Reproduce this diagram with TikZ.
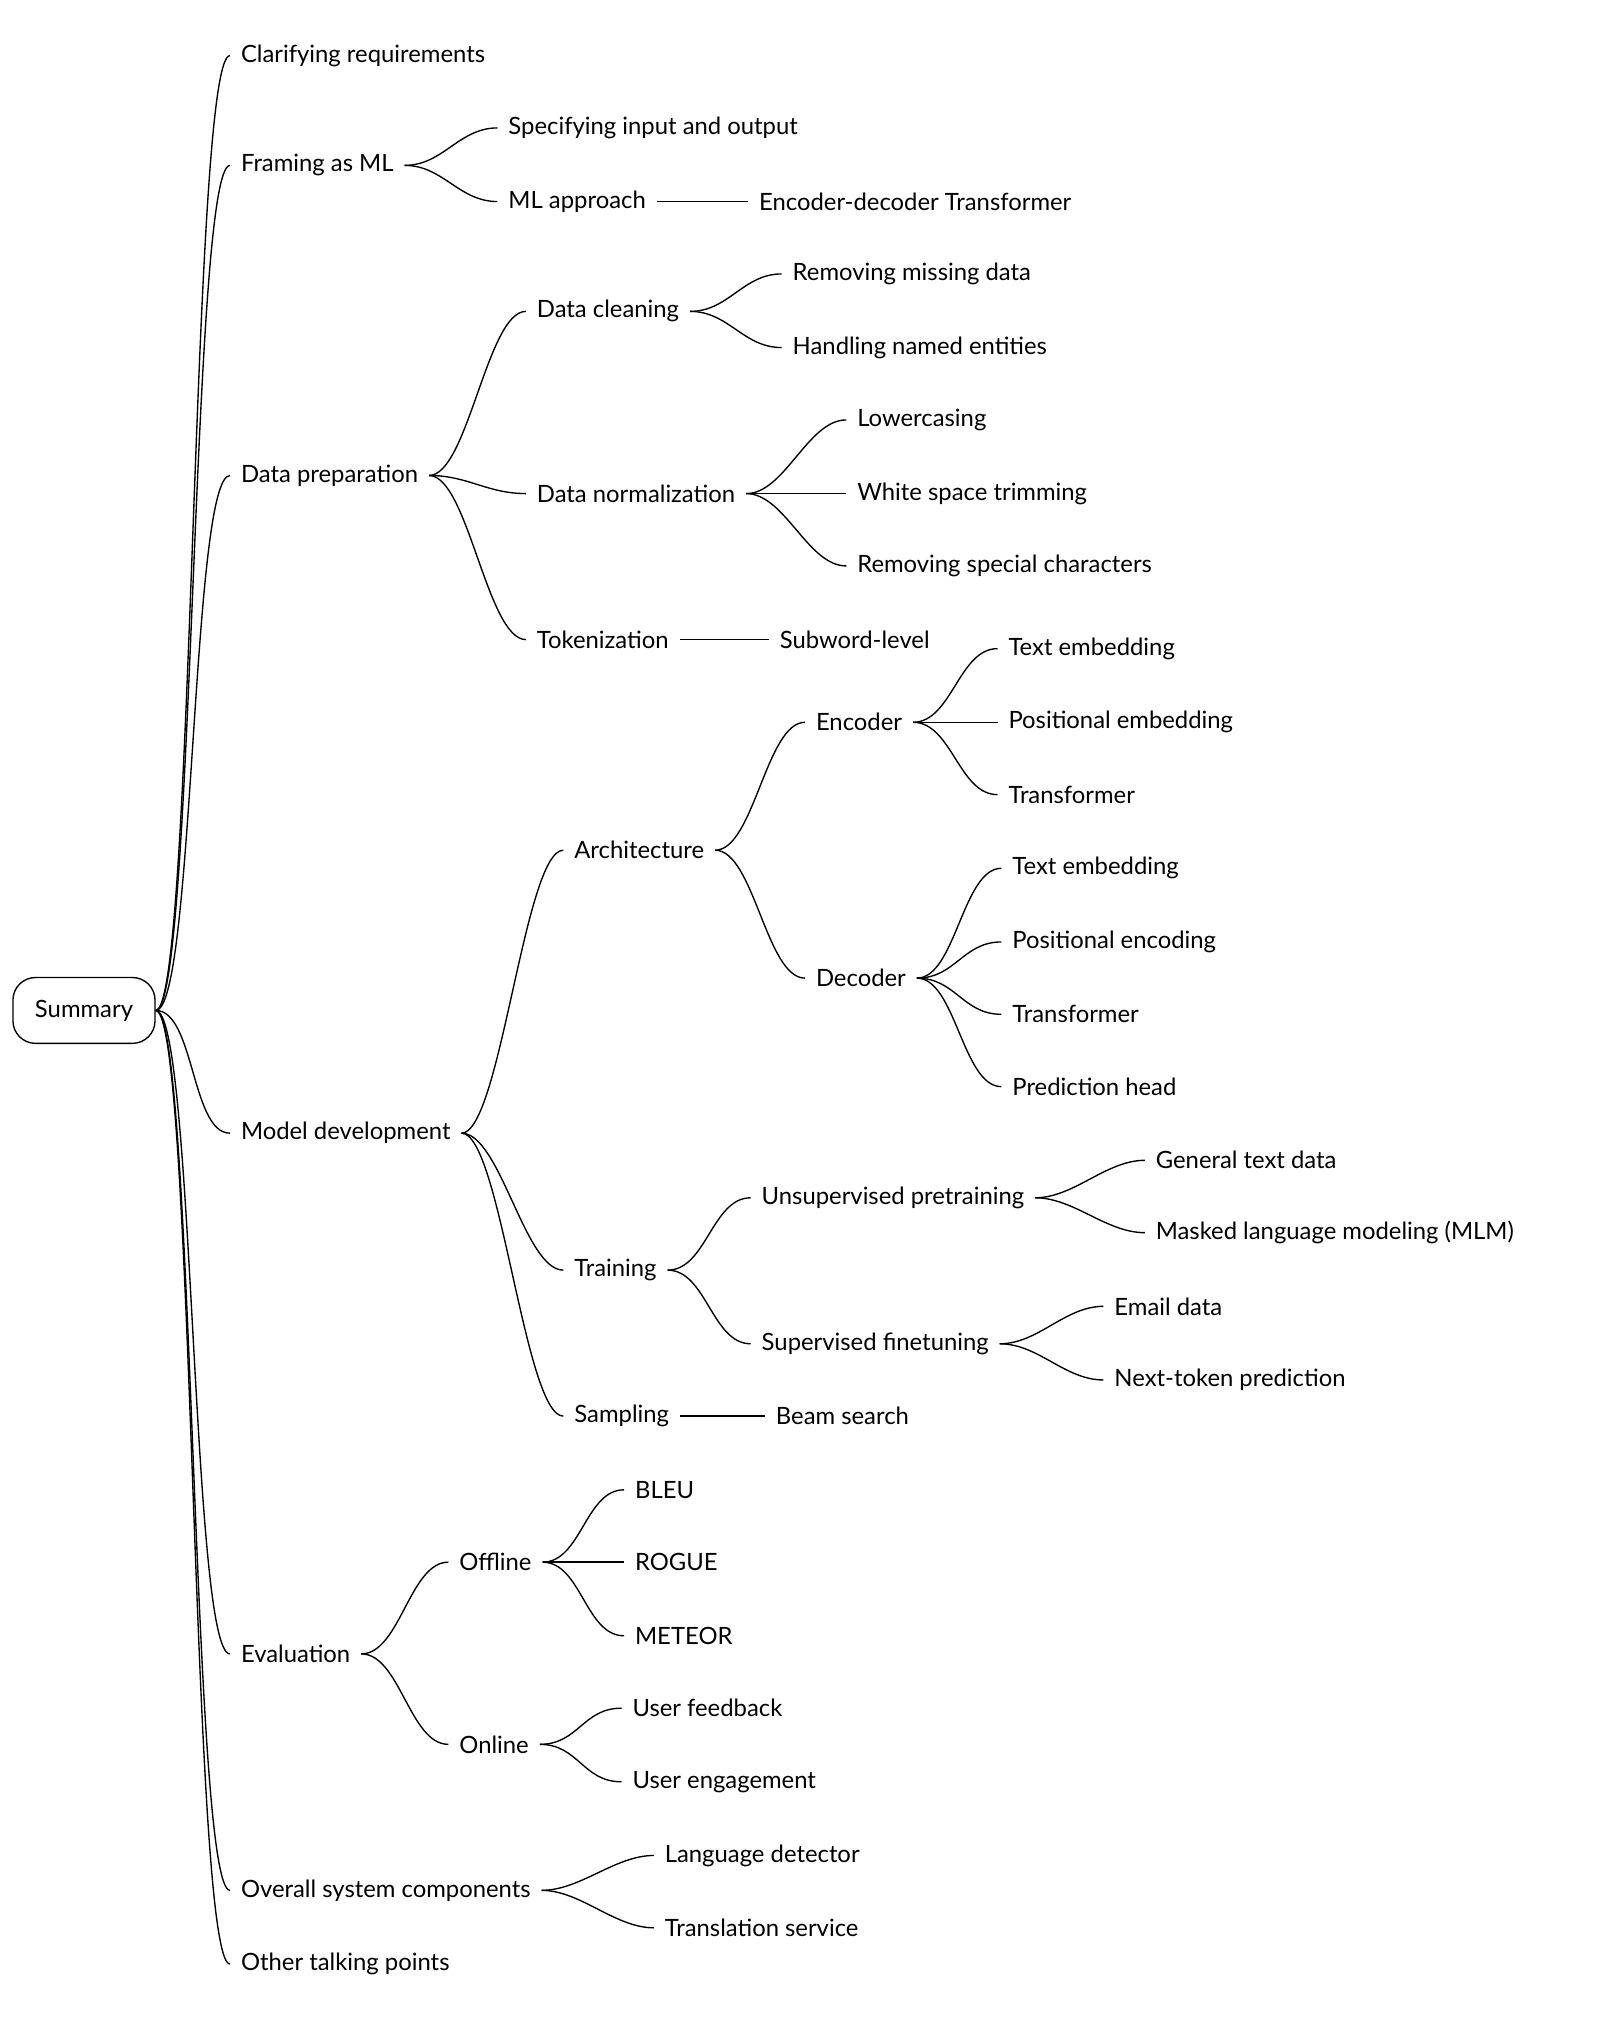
\documentclass[tikz,border=0pt]{standalone}
\usepackage{fontspec}
\setmainfont{Lato}
\usetikzlibrary{positioning}

\begin{document}
\begin{tikzpicture}[x=0.02cm, y=-0.02cm, semithick,
	item/.style={anchor=west, inner sep=0.16cm, font=\fontsize{10.5}{12}\selectfont},
	branch/.style={to path={.. controls +(30,0) and +(-30,0) .. (\tikztotarget)}}]

\useasboundingbox (0,0) rectangle (1240,1568);

\node[draw, rounded corners=0.35cm, minimum width=2.2cm, minimum height=1.02cm, font=\fontsize{10.5}{12}\selectfont] (root) at (65,782) {Summary};

% first level
\node[item] (clar) at (178,43)   {Clarifying requirements};
\node[item] (fram) at (178,128)  {Framing as ML};
\node[item] (prep) at (178,368)  {Data preparation};
\node[item] (mdev) at (178,877)  {Model development};
\node[item] (eval) at (178,1280) {Evaluation};
\node[item] (comp) at (178,1463) {Overall system components};
\node[item] (talk) at (178,1520) {Other talking points};

% framing
\node[item] (spec) at (385,99)  {Specifying input and output};
\node[item] (mlap) at (385,156) {ML approach};
\node[item] (encd) at (579,156) {Encoder-decoder Transformer};

% data preparation
\node[item] (clean) at (407,241) {Data cleaning};
\node[item] (norm)  at (407,382) {Data normalization};
\node[item] (tok)   at (407,495) {Tokenization};
\node[item] (miss)  at (605,212) {Removing missing data};
\node[item] (ner)   at (605,269) {Handling named entities};
\node[item] (lowc)  at (655,325) {Lowercasing};
\node[item] (trim)  at (655,382) {White space trimming};
\node[item] (spch)  at (655,438) {Removing special characters};
\node[item] (subw)  at (595,495) {Subword-level};

% model development
\node[item] (arch)  at (436,658)  {Architecture};
\node[item] (train) at (436,983)  {Training};
\node[item] (samp)  at (436,1096) {Sampling};
\node[item] (enc)   at (623,559)  {Encoder};
\node[item] (dec)   at (623,757)  {Decoder};
\node[item] (etxt)  at (772,502)  {Text embedding};
\node[item] (epos)  at (772,559)  {Positional embedding};
\node[item] (etrf)  at (772,615)  {Transformer};
\node[item] (dtxt)  at (775,672)  {Text embedding};
\node[item] (dpos)  at (775,729)  {Positional encoding};
\node[item] (dtrf)  at (775,785)  {Transformer};
\node[item] (dhead) at (775,841)  {Prediction head};
\node[item] (unsup) at (581,927)  {Unsupervised pretraining};
\node[item] (sup)   at (581,1040) {Supervised finetuning};
\node[item] (gen)   at (886,898)  {General text data};
\node[item] (mlm)   at (886,954)  {Masked language modeling (MLM)};
\node[item] (mail)  at (854,1011) {Email data};
\node[item] (ntp)   at (854,1068) {Next-token prediction};
\node[item] (beam)  at (592,1096) {Beam search};

% evaluation
\node[item] (off)  at (347,1209) {Offline};
\node[item] (on)   at (347,1350) {Online};
\node[item] (bleu) at (483,1153) {BLEU};
\node[item] (roug) at (483,1209) {ROGUE};
\node[item] (mete) at (483,1266) {METEOR};
\node[item] (feed) at (481,1322) {User feedback};
\node[item] (eng)  at (481,1379) {User engagement};

% components
\node[item] (lang) at (506,1436) {Language detector};
\node[item] (tran) at (506,1492) {Translation service};

\foreach \a/\b in {root/clar, root/fram, root/prep, root/mdev, root/eval, root/comp, root/talk,
	fram/spec, fram/mlap, prep/clean, prep/norm, prep/tok, clean/miss, clean/ner,
	norm/lowc, norm/trim, norm/spch, mdev/arch, mdev/train, mdev/samp, arch/enc, arch/dec,
	enc/etxt, enc/epos, enc/etrf, dec/dtxt, dec/dpos, dec/dtrf, dec/dhead,
	train/unsup, train/sup, unsup/gen, unsup/mlm, sup/mail, sup/ntp,
	eval/off, eval/on, off/bleu, off/roug, off/mete, on/feed, on/eng, comp/lang, comp/tran}
	\draw[branch] (\a.east) to (\b.west);

\draw (mlap.east) -- (encd.west);
\draw (tok.east) -- (subw.west);
\draw (samp.east) -- (beam.west);

\end{tikzpicture}
\end{document}
